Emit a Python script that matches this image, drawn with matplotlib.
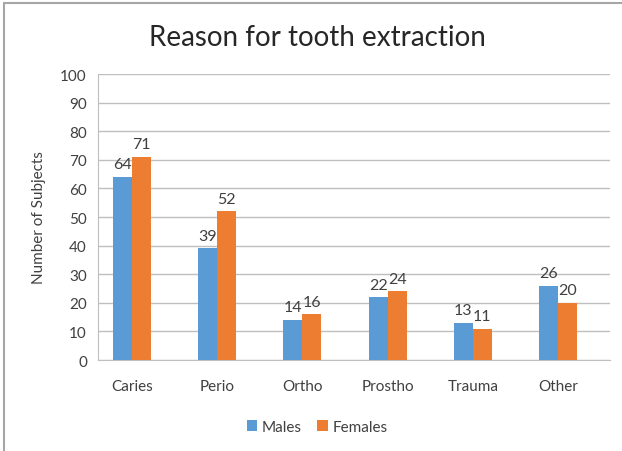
import numpy as np
import matplotlib.pyplot as plt
from matplotlib.patches import Rectangle

categories = ["Caries", "Perio", "Ortho", "Prostho", "Trauma", "Other"]
males = [64, 39, 14, 22, 13, 26]
females = [71, 52, 16, 24, 11, 20]

plt.rcParams['font.family'] = ['Lato', 'DejaVu Sans']
txt = '#404040'
blue = '#5B9BD5'
orange = '#ED7D31'

fig = plt.figure(figsize=(6.22, 4.52), dpi=100)
ax = fig.add_axes([98 / 622, 0.2013, 512 / 622, 0.6327])

x = np.arange(len(categories))
w = 0.223
b1 = ax.bar(x - w / 2, males, w, color=blue, label="Males", zorder=3)
b2 = ax.bar(x + w / 2, females, w, color=orange, label="Females", zorder=3)
ax.bar_label(b1, padding=4, fontsize=11.5, color=txt)
ax.bar_label(b2, padding=4, fontsize=11.5, color=txt)

ax.set_xlim(-0.40, len(categories) - 1 + 0.61)
ax.set_ylim(0, 100)
ax.set_yticks(range(0, 101, 10))
ax.set_xticks(x)
ax.set_xticklabels(categories)
ax.tick_params(axis='both', length=0, labelsize=11, labelcolor=txt)
ax.tick_params(axis='x', pad=14)
ax.tick_params(axis='y', pad=8)
ax.grid(axis='y', color='#BFBFBF', linewidth=1, zorder=0)
for s in ['top', 'right']:
    ax.spines[s].set_visible(False)
ax.spines['left'].set_color('#BFBFBF')
ax.spines['bottom'].set_color('#BFBFBF')
ax.set_ylabel("Number of Subjects", fontsize=11, color=txt, labelpad=10)

fig.text(0.51, 0.915, "Reason for tooth extraction", ha='center', va='center',
         fontsize=20, color='#262626')

fig.legend(handles=[b1, b2], loc='center', bbox_to_anchor=(0.51, 0.053), ncol=2,
           frameon=False, fontsize=11, handlelength=0.7, handleheight=0.7,
           handletextpad=0.3, columnspacing=1.0, labelcolor=txt)

# outer chart border
fig.patches.append(Rectangle((4 / 622, -0.1), 1.2, 1 - 4 / 452 + 0.1,
                             transform=fig.transFigure, fill=False,
                             edgecolor='#A6A6A6', linewidth=1.5))

fig.savefig("out.png", dpi=100)
